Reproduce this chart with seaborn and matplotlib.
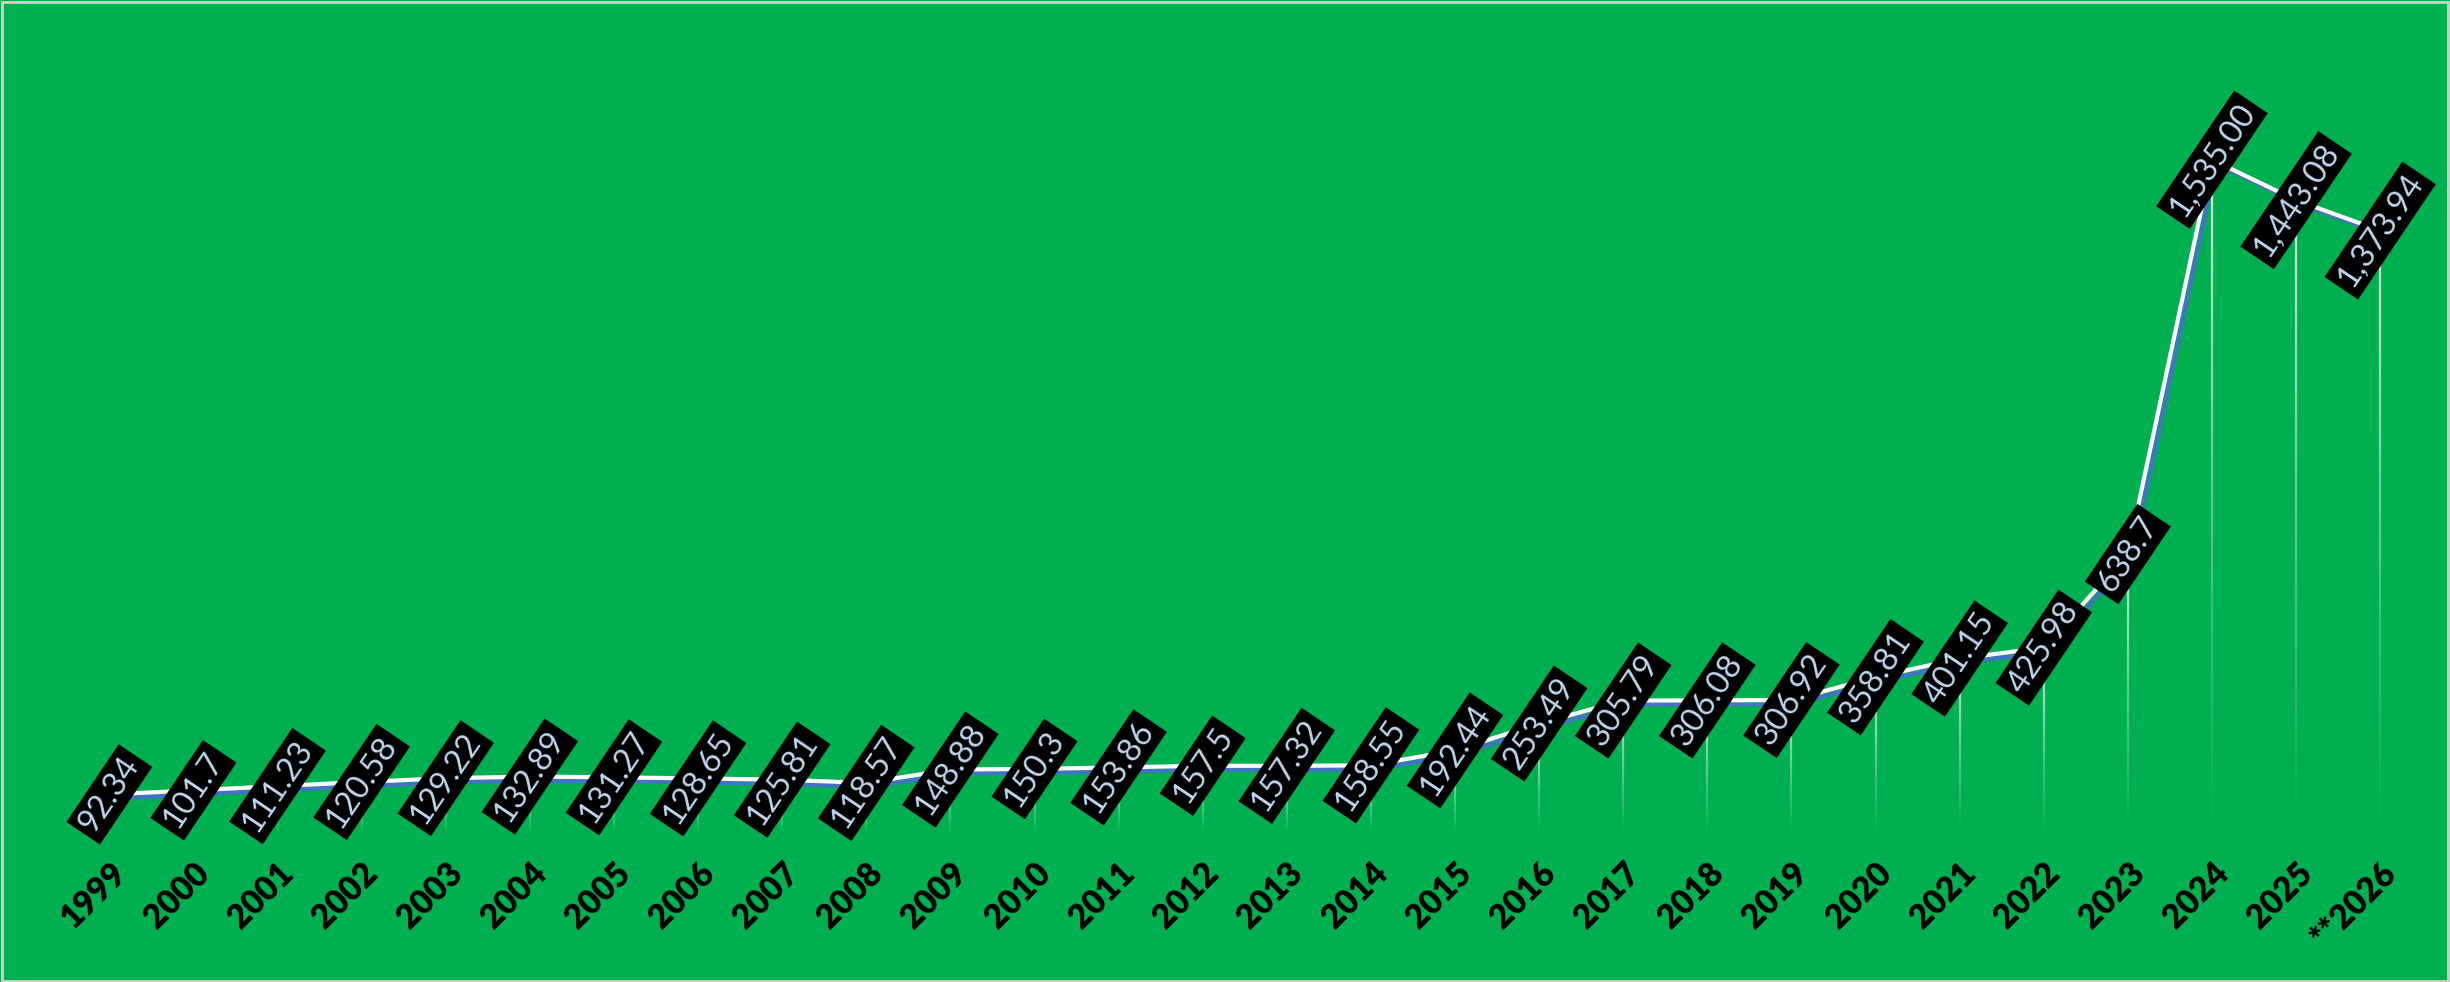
import numpy as np
import pandas as pd
import matplotlib.pyplot as plt
import matplotlib.transforms as mtransforms
from matplotlib.collections import LineCollection
from matplotlib.patches import Rectangle
import seaborn as sns

# %%
years = ["1999", "2000", "2001", "2002", "2003", "2004", "2005", "2006", "2007",
         "2008", "2009", "2010", "2011", "2012", "2013", "2014", "2015", "2016",
         "2017", "2018", "2019", "2020", "2021", "2022", "2023", "2024", "2025",
         "**2026"]
values = [92.34, 101.7, 111.23, 120.58, 129.22, 132.89, 131.27, 128.65, 125.81,
          118.57, 148.88, 150.3, 153.86, 157.5, 157.32, 158.55, 192.44, 253.49,
          305.79, 306.08, 306.92, 358.81, 401.15, 425.98, 638.7, 1535.00, 1443.08,
          1373.94]

df = pd.DataFrame({"year": years, "value": values})
df["pos"] = np.arange(len(df))


def fmt(v):
    if v >= 1000:
        return f"{v:,.2f}"
    return f"{v:g}"


# %%
sns.set_style("white")
plt.rcParams["font.family"] = ["Lato", "DejaVu Sans"]

green = "#00B050"
fig = plt.figure(figsize=(24.5, 9.82), dpi=100, facecolor=green)
ax = fig.add_axes([0, 0, 1, 1])
ax.set_facecolor(green)

# fading drop lines
nseg = 30
segs, cols = [], []
for x, v in zip(df["pos"], df["value"]):
    ys = np.linspace(v, 0, nseg + 1)
    for k in range(nseg):
        segs.append([(x, ys[k]), (x, ys[k + 1])])
        cols.append((1, 1, 1, 0.8 * (1 - k / nseg) ** 1.2))
ax.add_collection(LineCollection(segs, colors=cols, linewidths=1.6, zorder=1))

# blue shadow line then white line
sns.lineplot(data=df, x="pos", y="value", color="#4472C4", linewidth=3.0, ax=ax, zorder=2)
ax.lines[-1].set_transform(mtransforms.offset_copy(ax.transData, fig=fig, x=4, y=-4, units="dots"))
sns.lineplot(data=df, x="pos", y="value", color="white", linewidth=3.0, ax=ax, zorder=3)

for x, v in zip(df["pos"], df["value"]):
    ax.text(x, v, fmt(v), ha="center", va="center", rotation=56,
            rotation_mode="anchor", fontsize=23.5, color="#BDD7EE", zorder=5,
            bbox=dict(boxstyle="square,pad=0.16", fc="black", ec="none"))

ax.set_xlim(-1.30, 27.83)
ax.set_ylim(-334, 1898)
for s in ax.spines.values():
    s.set_visible(False)
ax.spines["bottom"].set_position(("data", 0))
ax.set_xticks(df["pos"])
ax.set_xticklabels(df["year"], rotation=45, ha="right", rotation_mode="anchor",
                   fontsize=24, fontweight="heavy", color="black")
ax.tick_params(axis="x", length=0, pad=16)
ax.set_yticks([])
ax.set_xlabel("")
ax.set_ylabel("")

fig.patches.append(Rectangle((0.001, 0.001), 0.998, 0.997, transform=fig.transFigure,
                             fill=False, edgecolor="#d0d0d0", linewidth=2))

fig.savefig("out.png", dpi=100, facecolor=green)
